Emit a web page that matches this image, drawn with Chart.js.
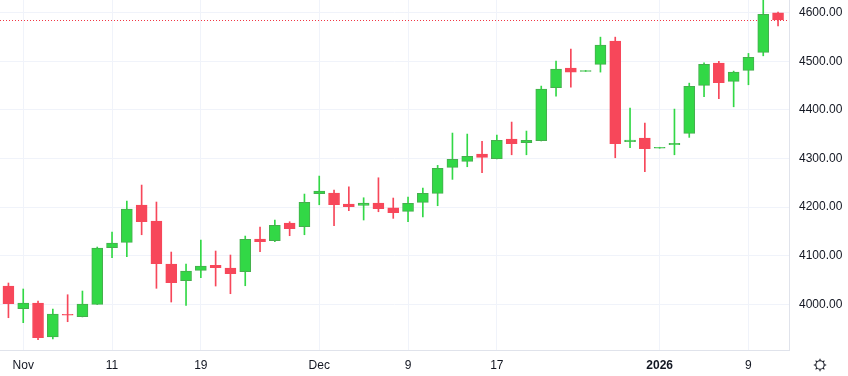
<!DOCTYPE html>
<html>
<head>
<meta charset="utf-8">
<script src="https://cdn.jsdelivr.net/npm/chart.js@4/dist/chart.umd.min.js"></script>
<style>
  html, body { margin: 0; padding: 0; background: #ffffff; }
  #wrap { width: 848px; height: 376px; position: relative; }
</style>
</head>
<body>
<div id="wrap"><canvas id="c" width="848" height="376"></canvas></div>
<script>
const dates = [
  '2025-10-31','2025-11-03','2025-11-04','2025-11-05','2025-11-06','2025-11-07',
  '2025-11-10','2025-11-11','2025-11-12','2025-11-13','2025-11-14',
  '2025-11-17','2025-11-18','2025-11-19','2025-11-20','2025-11-21',
  '2025-11-24','2025-11-25','2025-11-26','2025-11-27','2025-11-28',
  '2025-12-01','2025-12-02','2025-12-03','2025-12-04','2025-12-05',
  '2025-12-08','2025-12-09','2025-12-10','2025-12-11','2025-12-12',
  '2025-12-15','2025-12-16','2025-12-17','2025-12-18','2025-12-19',
  '2025-12-22','2025-12-23','2025-12-24','2025-12-25','2025-12-26',
  '2025-12-29','2025-12-30','2025-12-31','2026-01-01','2026-01-02',
  '2026-01-05','2026-01-06','2026-01-07','2026-01-08','2026-01-09',
  '2026-01-12','2026-01-13'
];
const open = [
  4037.6,3990.9,4002.7,3932.8,3979.0,3974.5,
  4000.0,4116.4,4127.5,4204.2,4171.3,
  4082.9,4048.5,4069.9,4080.2,4074.6,
  4067.0,4134.3,4130.8,4167.2,4159.6,
  4227.4,4228.9,4206.3,4203.6,4208.3,
  4198.6,4191.2,4209.7,4228.3,4281.7,
  4294.0,4309.1,4299.4,4339.9,4332.3,
  4336.4,4445.4,4485.9,4479.0,4493.5,
  4541.4,4334.4,4342.0,4321.0,4328.2,
  4351.6,4450.3,4496.2,4458.6,4481.2,
  4518.2,4599.6
];
const high = [
  4043.8,4031.5,4006.8,3990.3,4019.7,4027.3,
  4117.8,4148.7,4212.4,4245.3,4210.4,
  4107.5,4082.9,4132.2,4109.6,4101.4,
  4140.4,4159.0,4173.4,4169.9,4226.8,
  4263.8,4235.0,4241.8,4219.2,4260.3,
  4218.6,4220.6,4239.2,4285.8,4352.3,
  4350.2,4335.2,4348.1,4374.9,4356.4,
  4448.9,4500.3,4525.0,4479.0,4549.6,
  4549.6,4403.7,4372.8,4321.0,4401.6,
  4455.0,4496.8,4499.7,4479.7,4516.1,
  4640.0,4601.0
];
const low = [
  3972.4,3962.2,3927.2,3928.6,3964.2,3974.0,
  3999.5,4095.8,4097.9,4143.1,4032.9,
  4004.7,3997.5,4054.7,4037.6,4021.8,
  4038.2,4108.2,4128.7,4141.1,4143.1,
  4204.8,4161.6,4192.5,4173.4,4190.4,
  4176.8,4169.9,4180.0,4202.8,4257.0,
  4283.0,4270.6,4299.0,4307.6,4307.6,
  4336.0,4428.3,4446.8,4479.0,4477.7,
  4301.5,4322.0,4272.7,4321.0,4307.6,
  4343.4,4426.9,4422.8,4406.3,4451.6,
  4511.2,4572.9
];
const close = [
  4001.2,4002.7,3931.3,3980.1,3977.5,4000.6,
  4115.8,4126.0,4196.0,4169.9,4083.5,
  4044.4,4068.5,4078.8,4075.3,4062.9,
  4133.7,4128.7,4162.5,4155.5,4209.7,
  4233.0,4204.8,4200.7,4208.3,4196.6,
  4188.4,4207.7,4228.3,4279.7,4298.2,
  4304.3,4302.3,4337.2,4330.2,4337.2,
  4442.7,4483.8,4477.7,4479.0,4533.2,
  4330.2,4337.9,4320.0,4321.0,4331.1,
  4448.3,4493.5,4455.7,4477.7,4507.9,
  4596.3,4585.2
];
const tickDates  = ['2025-11-03','2025-11-11','2025-11-19','2025-12-01','2025-12-09','2025-12-17','2026-01-01','2026-01-09'];
const tickLabels = ['Nov','11','19','Dec','9','17','2026','9'];
const priceTicks = [4000,4100,4200,4300,4400,4500,4600];

const UP = '#32d846', UP_BORDER = '#46ae4e', DOWN = '#f7475a';
const isUp = i => close[i] >= open[i];

const bodies = dates.map((d, i) => ({ x: i, y: [open[i], close[i]] }));
const wicks  = dates.map((d, i) => ({ x: i, y: [low[i], high[i]] }));

const lastPriceLine = {
  id: 'lastPriceLine',
  beforeDatasetsDraw(chart) {
    const { ctx, chartArea, scales } = chart;
    const y = Math.round(scales.y.getPixelForValue(close[close.length - 1])) + 0.5;
    ctx.save();
    ctx.strokeStyle = '#f23645';
    ctx.lineWidth = 1;
    ctx.setLineDash([1, 2]);
    ctx.beginPath();
    ctx.moveTo(chartArea.left, y);
    ctx.lineTo(chartArea.right, y);
    ctx.stroke();
    ctx.restore();
  }
};

const settingsIcon = {
  id: 'settingsIcon',
  afterDraw(chart) {
    const ctx = chart.ctx;
    const cx = 820, cy = 365;
    ctx.save();
    ctx.strokeStyle = '#131722';
    ctx.lineWidth = 1.1;
    ctx.beginPath();
    ctx.arc(cx, cy, 4.2, 0, Math.PI * 2);
    ctx.stroke();
    for (let k = 0; k < 8; k++) {
      const a = k * Math.PI / 4;
      ctx.beginPath();
      ctx.moveTo(cx + Math.cos(a) * 4.2, cy + Math.sin(a) * 4.2);
      ctx.lineTo(cx + Math.cos(a) * 6.2, cy + Math.sin(a) * 6.2);
      ctx.stroke();
    }
    ctx.restore();
  }
};

new Chart(document.getElementById('c'), {
  type: 'bar',
  data: {
    datasets: [
      {
        label: 'body',
        data: bodies,
        order: 0,
        grouped: false,
        barThickness: 11,
        minBarLength: 1,
        backgroundColor: ctx => isUp(ctx.dataIndex) ? UP : DOWN,
        borderColor: ctx => isUp(ctx.dataIndex) ? UP_BORDER : DOWN,
        borderWidth: 1,
        borderSkipped: false
      },
      {
        label: 'wick',
        data: wicks,
        order: 1,
        grouped: false,
        barThickness: 1,
        minBarLength: 1,
        backgroundColor: ctx => isUp(ctx.dataIndex) ? UP : DOWN,
        borderWidth: 0
      }
    ]
  },
  plugins: [lastPriceLine, settingsIcon],
  options: {
    responsive: false,
    animation: false,
    events: [],
    layout: { padding: 0 },
    plugins: { legend: { display: false }, tooltip: { enabled: false } },
    scales: {
      x: {
        type: 'linear',
        offset: false,
        min: -0.57,
        max: 52.74,
        afterBuildTicks: s => { s.ticks = tickDates.map(d => ({ value: dates.indexOf(d) })); },
        afterFit: s => { s.height = 26; s.paddingLeft = 0; s.paddingRight = 0; },
        grid: { offset: false, color: '#f0f3fa', lineWidth: 1, drawTicks: false },
        border: { display: true, color: '#e0e3eb' },
        ticks: {
          padding: 8,
          color: '#131722',
          maxRotation: 0,
          autoSkip: false,
          font: c => ({ family: 'Liberation Sans', size: 12, weight: (c.tick && c.tick.label === '2026') ? 'bold' : 'normal' }),
          callback: v => tickLabels[tickDates.indexOf(dates[v])]
        }
      },
      y: {
        type: 'linear',
        position: 'right',
        min: 3906,
        max: 4626,
        afterBuildTicks: s => { s.ticks = priceTicks.map(v => ({ value: v })); },
        afterFit: s => { s.width = 59; s.paddingTop = 0; s.paddingBottom = 0; },
        grid: { color: '#f0f3fa', lineWidth: 1, drawTicks: false },
        border: { display: true, color: '#e0e3eb' },
        ticks: {
          padding: 10,
          color: '#131722',
          font: { family: 'Liberation Sans', size: 12 },
          callback: v => v.toFixed(2)
        }
      }
    }
  }
});
</script>
</body>
</html>
